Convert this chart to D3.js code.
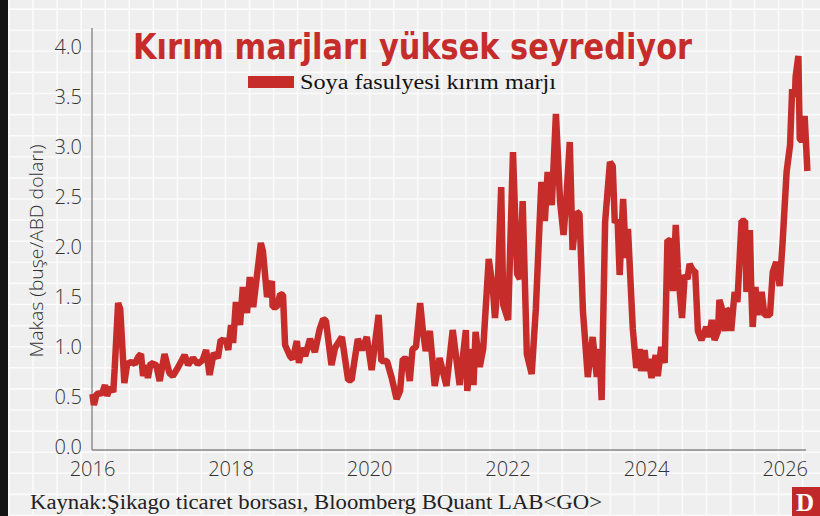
<!DOCTYPE html>
<html>
<head>
<meta charset="utf-8">
<script src="https://cdn.jsdelivr.net/npm/d3@7"></script>
<style>
  html, body { margin: 0; padding: 0; background: #efefef; }
  svg { display: block; }
</style>
</head>
<body>
<svg id="chart" width="820" height="516"></svg>
<script>
// soybean crush margin, decimal year / value
const dates = [
  2016.00,2016.02,2016.06,2016.14,2016.18,2016.21,2016.25,2016.30,2016.32,2016.37,
  2016.40,2016.46,2016.50,2016.56,2016.61,2016.66,2016.70,2016.73,2016.77,2016.80,
  2016.84,2016.92,2016.97,2017.04,2017.11,2017.16,2017.23,2017.33,2017.38,2017.45,
  2017.52,2017.59,2017.64,2017.69,2017.75,2017.81,2017.85,2017.93,2017.96,2018.00,
  2018.03,2018.07,2018.13,2018.17,2018.23,2018.27,2018.32,2018.43,2018.46,2018.52,
  2018.59,2018.60,2018.66,2018.71,2018.75,2018.78,2018.85,2018.89,2018.95,2018.98,
  2019.02,2019.07,2019.14,2019.21,2019.28,2019.33,2019.37,2019.45,2019.50,2019.60,
  2019.69,2019.74,2019.83,2019.89,2019.96,2020.03,2020.13,2020.17,2020.25,2020.32,
  2020.39,2020.44,2020.48,2020.54,2020.58,2020.62,2020.67,2020.73,2020.77,2020.81,
  2020.87,2020.94,2021.01,2021.11,2021.20,2021.30,2021.39,2021.41,2021.47,2021.50,
  2021.53,2021.59,2021.64,2021.72,2021.78,2021.81,2021.85,2021.90,2021.93,2022.00,
  2022.07,2022.13,2022.17,2022.21,2022.27,2022.34,2022.40,2022.48,2022.53,2022.57,
  2022.63,2022.69,2022.75,2022.80,2022.84,2022.89,2022.93,2022.99,2023.03,2023.08,
  2023.15,2023.22,2023.28,2023.32,2023.35,2023.40,2023.47,2023.51,2023.54,2023.58,
  2023.61,2023.66,2023.70,2023.73,2023.80,2023.85,2023.90,2023.92,2023.97,2024.00,
  2024.03,2024.07,2024.13,2024.16,2024.21,2024.26,2024.30,2024.35,2024.38,2024.42,
  2024.45,2024.51,2024.55,2024.59,2024.62,2024.67,2024.70,2024.74,2024.79,2024.86,
  2024.90,2024.94,2024.98,2025.03,2025.05,2025.08,2025.13,2025.15,2025.20,2025.22,
  2025.27,2025.31,2025.37,2025.42,2025.44,2025.49,2025.51,2025.53,2025.57,2025.60,
  2025.66,2025.70,2025.78,2025.82,2025.87,2025.92,2025.96,2026.02,2026.07,2026.10,
  2026.14,2026.15,2026.19,2026.21,2026.24,2026.28,2026.32
];
const values = [
  0.55,0.44,0.55,0.56,0.64,0.53,0.62,0.57,0.80,1.46,
  1.40,0.66,0.85,0.87,0.85,0.92,0.95,0.73,0.84,0.71,
  0.86,0.84,0.68,0.95,0.76,0.73,0.81,0.94,0.84,0.91,
  0.85,0.89,0.99,0.74,0.96,0.91,1.09,1.08,0.99,1.24,
  1.06,1.47,1.24,1.62,1.36,1.72,1.42,2.06,1.98,1.52,
  1.68,1.42,1.42,1.55,1.54,1.04,0.93,0.90,1.08,0.86,
  1.01,0.93,1.10,0.97,1.20,1.30,1.28,0.84,1.01,1.12,
  0.69,0.69,1.10,0.99,1.12,0.79,1.34,0.88,0.88,0.71,
  0.50,0.58,0.90,0.90,0.68,1.00,1.02,1.46,1.18,0.98,
  1.18,0.63,0.91,0.63,1.19,0.64,1.19,0.58,1.00,0.64,
  1.17,0.82,1.00,1.90,1.60,1.31,1.64,2.62,1.44,1.29,
  2.97,1.75,1.70,2.48,0.95,0.75,1.40,2.67,2.28,2.77,
  2.44,3.35,2.47,2.14,2.50,3.07,1.99,2.37,2.35,1.38,
  0.72,1.12,0.72,1.00,0.49,2.27,2.87,2.83,2.26,2.30,
  1.74,2.50,1.91,2.20,1.20,0.81,1.00,0.78,0.99,0.78,
  0.90,0.71,0.94,0.73,1.02,0.86,2.09,2.08,1.58,2.24,
  1.80,1.31,1.74,1.70,1.85,1.78,1.78,1.18,1.09,1.22,
  1.12,1.29,1.09,1.18,1.49,1.42,1.18,1.40,1.36,1.18,
  1.57,1.47,2.28,2.28,1.57,2.19,1.60,1.22,1.62,1.34,
  1.57,1.34,1.34,1.77,1.87,1.63,2.04,2.77,3.04,3.60,
  3.52,3.72,3.93,3.10,3.08,3.33,2.78
];
const yTicks = [0, 0.5, 1, 1.5, 2, 2.5, 3, 3.5, 4];
const xTicks = [2016, 2018, 2020, 2022, 2024, 2026];

const titleText = "Kırım marjları yüksek seyrediyor";
const legendText = "Soya fasulyesi kırım marjı";
const yLabelText = "Makas (buşe/ABD doları)";
const sourceText = "Kaynak:Şikago ticaret borsası, Bloomberg BQuant LAB<GO>";

const W = 820, H = 516;
const red = "#c62d2a";
const svg = d3.select("#chart");

// background with the faint white grid texture
svg.append("rect").attr("width", W).attr("height", H).attr("fill", "#efefef");
const bg = svg.append("g").attr("stroke", "#fbfbfb").attr("stroke-width", 1.6);
for (let x = 9; x < W; x += 24.05) {
  bg.append("line").attr("x1", x).attr("x2", x).attr("y1", 0).attr("y2", H);
}
for (let y = 410 + 21.1 * 5; y > 0; y -= 21.1) {
  bg.append("line").attr("x1", 0).attr("x2", W).attr("y1", y).attr("y2", y);
}
svg.append("rect").attr("width", 8).attr("height", H).attr("fill", "#141414");

const xScale = d3.scaleLinear().domain([2016, 2026.3]).range([92.5, 806]);
const yScale = d3.scaleLinear().domain([0, 4]).range([449, 49]);

// axes lines
svg.append("line").attr("x1", 92).attr("x2", 806).attr("y1", 450).attr("y2", 450)
   .attr("stroke", "#555").attr("stroke-width", 1.2);
svg.append("line").attr("x1", 92).attr("x2", 92).attr("y1", 28).attr("y2", 450)
   .attr("stroke", "#777").attr("stroke-width", 1.2);

const tickFont = "'Open Sans', 'Lato', sans-serif";

svg.append("g").selectAll("text")
   .data(yTicks).enter().append("text")
   .attr("x", 82)
   .attr("y", d => yScale(d) - 2)
   .attr("dy", "0.35em")
   .attr("text-anchor", "end")
   .attr("font-family", tickFont)
   .attr("font-weight", 300)
   .attr("font-size", 20)
   .attr("fill", "#333")
   .text(d => d3.format(".1f")(d));

svg.append("g").selectAll("text")
   .data(xTicks).enter().append("text")
   .attr("x", d => xScale(d))
   .attr("y", 476)
   .attr("text-anchor", "middle")
   .attr("font-family", tickFont)
   .attr("font-weight", 300)
   .attr("font-size", 20)
   .attr("fill", "#333")
   .text(d => d);

svg.append("text")
   .attr("transform", "translate(43,251) rotate(-90)")
   .attr("text-anchor", "middle")
   .attr("font-family", tickFont)
   .attr("font-weight", 300)
   .attr("font-size", 18)
   .attr("fill", "#333")
   .attr("textLength", 213)
   .attr("lengthAdjust", "spacingAndGlyphs")
   .text(yLabelText);

// the series
const data = dates.map((d, i) => ({date: d, value: values[i]}));
const line = d3.line().x(d => xScale(d.date)).y(d => yScale(d.value));
svg.append("path")
   .datum(data)
   .attr("d", line)
   .attr("fill", "none")
   .attr("stroke", red)
   .attr("stroke-width", 6.5)
   .attr("stroke-linejoin", "bevel");

// title + legend
svg.append("text")
   .attr("x", 133).attr("y", 59)
   .attr("font-family", "'Liberation Sans Narrow', 'DejaVu Sans Condensed', 'Roboto', sans-serif")
   .attr("font-weight", "bold")
   .attr("font-size", 36)
   .attr("fill", red)
   .attr("textLength", 559)
   .attr("lengthAdjust", "spacingAndGlyphs")
   .text(titleText);

svg.append("rect").attr("x", 248).attr("y", 76).attr("width", 46).attr("height", 12).attr("fill", red);
svg.append("text")
   .attr("x", 300).attr("y", 89)
   .attr("font-family", "'Liberation Serif', 'DejaVu Serif', serif")
   .attr("font-size", 20)
   .attr("fill", "#111")
   .attr("textLength", 256)
   .attr("lengthAdjust", "spacingAndGlyphs")
   .text(legendText);

// source + logo
svg.append("text")
   .attr("x", 30).attr("y", 509)
   .attr("font-family", "'Liberation Serif', 'DejaVu Serif', serif")
   .attr("font-size", 20)
   .attr("fill", "#222")
   .attr("textLength", 572)
   .attr("lengthAdjust", "spacingAndGlyphs")
   .text(sourceText);

svg.append("rect").attr("x", 792).attr("y", 487).attr("width", 28).attr("height", 29).attr("fill", "#c0282a");
svg.append("text")
   .attr("x", 805).attr("y", 511)
   .attr("text-anchor", "middle")
   .attr("font-family", "'Liberation Serif', 'DejaVu Serif', serif")
   .attr("font-weight", "bold")
   .attr("font-size", 25)
   .attr("fill", "#fff")
   .text("D");
</script>
</body>
</html>
